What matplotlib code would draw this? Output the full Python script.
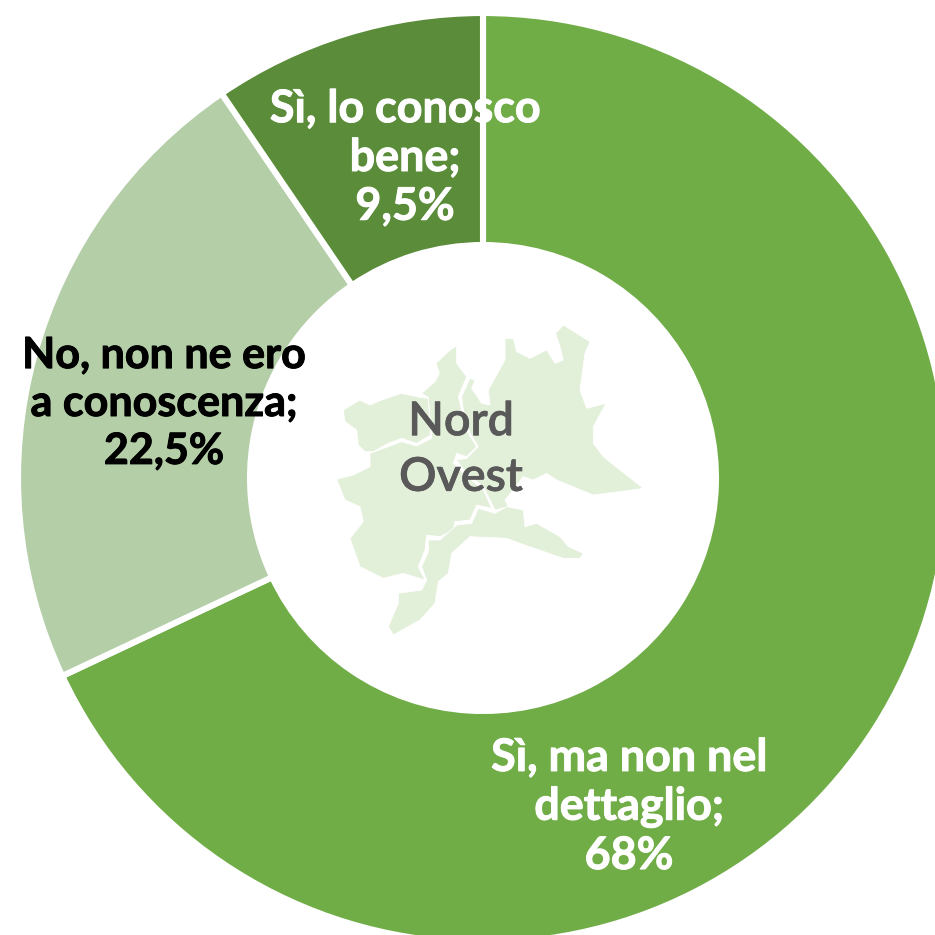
import matplotlib
matplotlib.use("Agg")
import matplotlib.pyplot as plt
import matplotlib.patheffects as pe
from matplotlib.patches import Polygon

labels = ["Sì, ma non nel\ndettaglio;\n68%", "No, non ne ero\na conoscenza;\n22,5%", "Sì, lo conosco\nbene;\n9,5%"]
values = [68, 22.5, 9.5]
colors = ["#70AD47", "#B4CEA8", "#5B8C3A"]
text_colors = ["white", "black", "white"]
label_xy = [(629, 807), (164, 403), (405, 158)]
label_sizes = [32.3, 31, 32.3]
center_label = "Nord\nOvest"

# Decorative map outlines, traced in pixels of a 3x crop whose corner is (320, 310)
aosta = [(70,300),(120,270),(150,285),(185,270),(245,250),(300,262),(325,265),(332,375),(290,400),(245,385),(205,400),(160,425),(135,425),(115,405),(110,360),(75,335)]
piemonte = [(50,508),(100,495),(150,470),(150,430),(205,410),(245,395),(290,408),(335,385),(325,262),(305,250),(345,215),(358,190),(348,160),(390,120),(410,108),(410,160),(440,200),(415,260),(425,300),(445,370),(470,410),(440,440),(410,430),(400,460),(430,490),(490,540),(515,595),(470,585),(450,630),(405,635),(400,660),(360,680),(320,675),(315,720),(295,770),(315,810),(250,790),(190,805),(120,770),(90,685),(130,635),(120,590),(75,570)]
lombardia = [(450,205),(465,210),(455,235),(485,280),(510,285),(505,240),(555,150),(555,85),(580,85),(590,125),(630,145),(680,120),(705,160),(730,150),(720,110),(707,70),(730,45),(810,95),(795,130),(780,240),(800,295),(858,280),(820,350),(820,400),(850,440),(900,480),(970,535),(900,545),(820,555),(710,510),(680,490),(640,510),(610,500),(555,570),(565,590),(525,600),(510,570),(490,530),(440,490),(410,450),(440,445),(475,410),(450,370),(430,300),(425,260)]
liguria = [(235,850),(305,840),(320,810),(305,770),(325,725),(325,690),(360,690),(410,645),(455,640),(475,595),(525,610),(560,590),(610,600),(615,650),(650,640),(720,680),(745,710),(790,730),(780,745),(730,745),(600,700),(560,685),(450,680),(395,730),(385,790),(355,815),(345,880),(300,930),(220,975),(205,950),(235,880)]
regions = [aosta, piemonte, lombardia, liguria]

plt.rcParams["font.family"] = ["Lato", "DejaVu Sans"]
fig = plt.figure(figsize=(9.35, 9.35), dpi=100)

# Ring centred at (483, 478) with a 465 px radius including the white edge
pie_ax = fig.add_axes([18/935, 1-943/935, 930/935, 930/935])
pie_ax.pie(values, colors=colors, startangle=90, counterclock=False, radius=1,
           wedgeprops=dict(width=0.499, edgecolor="white", linewidth=4.4))
pie_ax.set_xlim(-1, 1)
pie_ax.set_ylim(-1, 1)

ax2 = fig.add_axes([0, 0, 1, 1])
ax2.set_xlim(0, 935)
ax2.set_ylim(935, 0)
ax2.axis("off")
ax2.patch.set_alpha(0)
for region in regions:
    pts = [(320 + x/3, 310 + y/3) for x, y in region]
    ax2.add_patch(Polygon(pts, closed=True, facecolor="#E2EFD9", edgecolor="white", linewidth=0.6))
center = ax2.text(461, 450, center_label, ha="center", va="center", fontsize=33.5, fontweight="semibold", color="#595959", linespacing=1.4)
center.set_path_effects([pe.withStroke(linewidth=0.5, foreground="#595959")])
for lab, (x, y), c, size in zip(labels, label_xy, text_colors, label_sizes):
    t = ax2.text(x, y, lab, ha="center", va="center", fontsize=size, fontweight="bold", color=c, linespacing=1.24 if size < 32 else 1.2)
    t.set_path_effects([pe.withStroke(linewidth=0.7, foreground=c)])
fig.savefig("out.png", dpi=100)
